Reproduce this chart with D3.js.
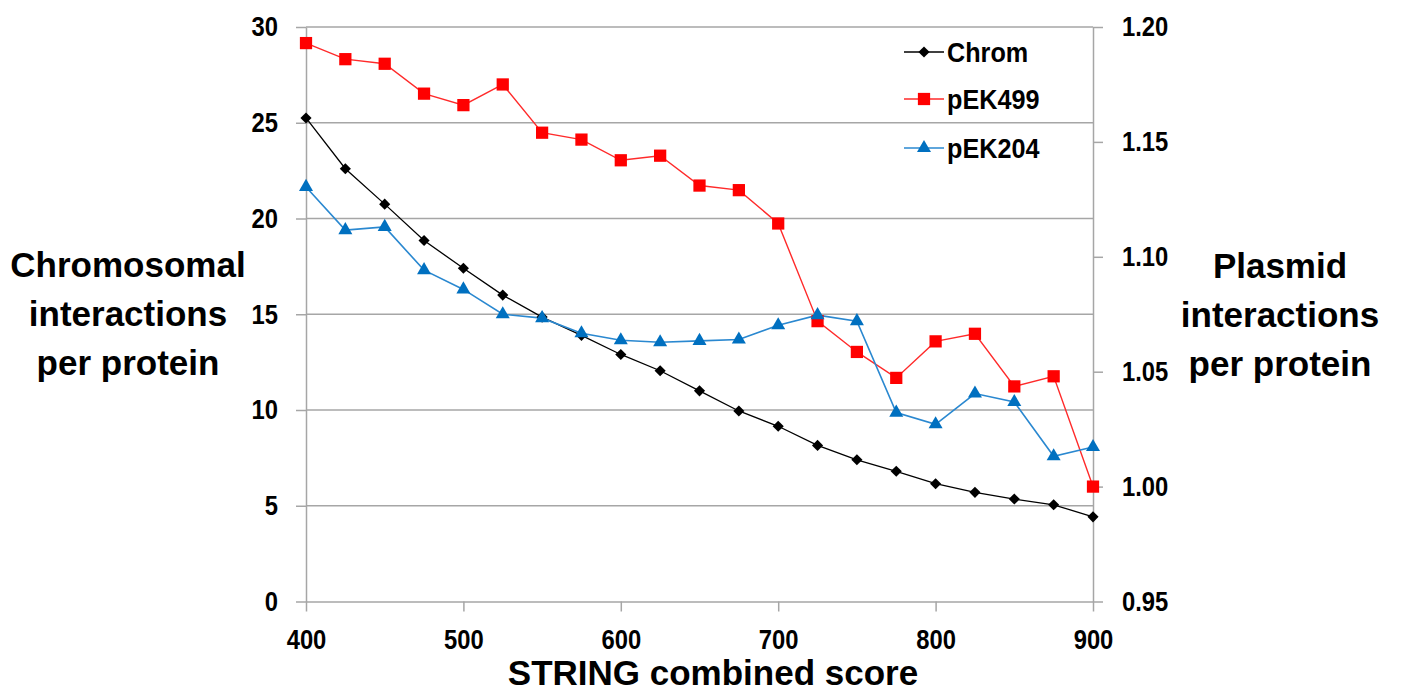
<!DOCTYPE html>
<html>
<head>
<meta charset="utf-8">
<script src="https://cdn.jsdelivr.net/npm/d3@7"></script>
<style>
  html, body { margin: 0; padding: 0; background: #fff; }
  svg { display: block; font-family: "Liberation Sans", Arial, sans-serif; }
  .axis text { font-weight: bold; font-size: 28px; fill: #000; }
  .axis path, .axis line { stroke: #a6a6a6; stroke-width: 1.5px; }
  .title { font-weight: bold; font-size: 35px; fill: #000; }
  .legend text { font-weight: bold; font-size: 28px; fill: #000; }
</style>
</head>
<body>
<svg id="chart" width="1404" height="693"></svg>
<script>
// STRING combined score thresholds
const scores = [400, 425, 450, 475, 500, 525, 550, 575, 600, 625, 650, 675, 700, 725, 750, 775, 800, 825, 850, 875, 900];
// Chromosomal interactions per protein (left axis)
const chrom = [25.25, 22.6, 20.75, 18.85, 17.4, 16.0, 14.85, 13.9, 12.9, 12.05, 11.0, 9.95, 9.15, 8.15, 7.4, 6.8, 6.15, 5.7, 5.35, 5.05, 4.42];
// Plasmid interactions per protein (right axis)
const pEK499 = [1.193, 1.186, 1.184, 1.171, 1.166, 1.175, 1.154, 1.151, 1.142, 1.144, 1.131, 1.129, 1.1145, 1.072, 1.0586, 1.0473, 1.0632, 1.0665, 1.0436, 1.048, 1.000];
const pEK204 = [1.1304, 1.1116, 1.113, 1.0942, 1.0858, 1.075, 1.0733, 1.0667, 1.0637, 1.0628, 1.0634, 1.064, 1.0702, 1.0746, 1.072, 1.0322, 1.0271, 1.0405, 1.0368, 1.0132, 1.0172];
// Axis ticks
const xTicks = [400, 500, 600, 700, 800, 900];
const leftTicks = [0, 5, 10, 15, 20, 25, 30];
const rightTicks = [0.95, 1.00, 1.05, 1.10, 1.15, 1.20];
const seriesNames = ["Chrom", "pEK499", "pEK204"];

const svg = d3.select("#chart");
const plot = { left: 306, right: 1093, top: 27, bottom: 601.5 };
const narrow = 0.85; // horizontal squeeze for condensed tick and legend labels

const x = d3.scaleLinear().domain([400, 900]).range([plot.left, plot.right]);
const yL = d3.scaleLinear().domain([0, 30]).range([plot.bottom, plot.top]);
const yR = d3.scaleLinear().domain([0.95, 1.20]).range([plot.bottom, plot.top]);

// squeeze text horizontally about its own anchor point
function condense(sel, k) {
  sel.each(function () {
    const t = d3.select(this);
    const tx = +t.attr("x") || 0;
    t.attr("x", 0).attr("transform", `translate(${tx},0) scale(${k},1)`);
  });
}

// horizontal gridlines on the left-axis ticks
svg.append("g").selectAll("line")
  .data(leftTicks.filter(d => d > 0))
  .join("line")
  .attr("x1", plot.left).attr("x2", plot.right)
  .attr("y1", d => yL(d)).attr("y2", d => yL(d))
  .attr("stroke", "#a6a6a6").attr("stroke-width", 1.5);

// axes
const gx = svg.append("g").attr("class", "axis")
  .attr("transform", `translate(0,${plot.bottom})`)
  .call(d3.axisBottom(x).tickValues(xTicks).tickSize(10).tickPadding(18).tickSizeOuter(0));
gx.selectAll("text").attr("dy", "0.71em");
condense(gx.selectAll("text"), narrow);

const gl = svg.append("g").attr("class", "axis")
  .attr("transform", `translate(${plot.left},0)`)
  .call(d3.axisLeft(yL).tickValues(leftTicks).tickSize(10).tickPadding(18).tickSizeOuter(0));
condense(gl.selectAll("text"), narrow);

const gr = svg.append("g").attr("class", "axis")
  .attr("transform", `translate(${plot.right},0)`)
  .call(d3.axisRight(yR).tickValues(rightTicks).tickFormat(d3.format(".2f")).tickSize(10).tickPadding(19).tickSizeOuter(0));
condense(gr.selectAll("text"), narrow);

// marker shapes: square-on-corner diamond, square, triangle
const diamond = d3.symbol().type(d3.symbolSquare).size(62);
const square = d3.symbol().type(d3.symbolSquare).size(150);
const triangle = d3.symbol().type(d3.symbolTriangle).size(85);

const series = [
  { name: seriesNames[0], values: chrom, y: yL, line: "#000000", fill: "#000000", sym: diamond, rot: 45, lw: 1.3 },
  { name: seriesNames[1], values: pEK499, y: yR, line: "#ff2a2a", fill: "#ff0000", sym: square, rot: 0, lw: 1.4 },
  { name: seriesNames[2], values: pEK204, y: yR, line: "#2a88d0", fill: "#0070c0", sym: triangle, rot: 0, lw: 1.6 }
];

// draw lines first, then markers on top
series.forEach(s => {
  const line = d3.line().x((d, i) => x(scores[i])).y(d => s.y(d));
  svg.append("path").datum(s.values)
    .attr("d", line).attr("fill", "none")
    .attr("stroke", s.line).attr("stroke-width", s.lw);
});
series.forEach(s => {
  svg.append("g").selectAll("path")
    .data(s.values)
    .join("path")
    .attr("d", s.sym)
    .attr("transform", (d, i) => `translate(${x(scores[i])},${s.y(d)}) rotate(${s.rot})`)
    .attr("fill", s.fill);
});

// legend
const legend = svg.append("g").attr("class", "legend");
const legendRows = [52, 99, 148];
series.forEach((s, i) => {
  const g = legend.append("g").attr("transform", `translate(904,${legendRows[i]})`);
  g.append("line").attr("x1", 0).attr("x2", 40).attr("y1", 0).attr("y2", 0)
    .attr("stroke", s.line).attr("stroke-width", s.lw);
  g.append("path").attr("d", s.sym).attr("transform", `translate(20,0) rotate(${s.rot})`).attr("fill", s.fill);
  g.append("text").attr("x", 43).attr("y", 0).attr("dy", "0.36em").text(s.name);
});
condense(legend.selectAll("text"), 0.9);

// axis titles
const leftTitle = ["Chromosomal", "interactions", "per protein"];
const rightTitle = ["Plasmid", "interactions", "per protein"];
svg.append("text").attr("class", "title").attr("text-anchor", "middle")
  .selectAll("tspan").data(leftTitle).join("tspan")
  .attr("x", 128).attr("y", (d, i) => 277 + i * 49).text(d => d);
svg.append("text").attr("class", "title").attr("text-anchor", "middle")
  .selectAll("tspan").data(rightTitle).join("tspan")
  .attr("x", 1280).attr("y", (d, i) => 278 + i * 49).text(d => d);
svg.append("text").attr("class", "title").attr("text-anchor", "middle")
  .attr("x", 713).attr("y", 685).text("STRING combined score");
</script>
</body>
</html>
